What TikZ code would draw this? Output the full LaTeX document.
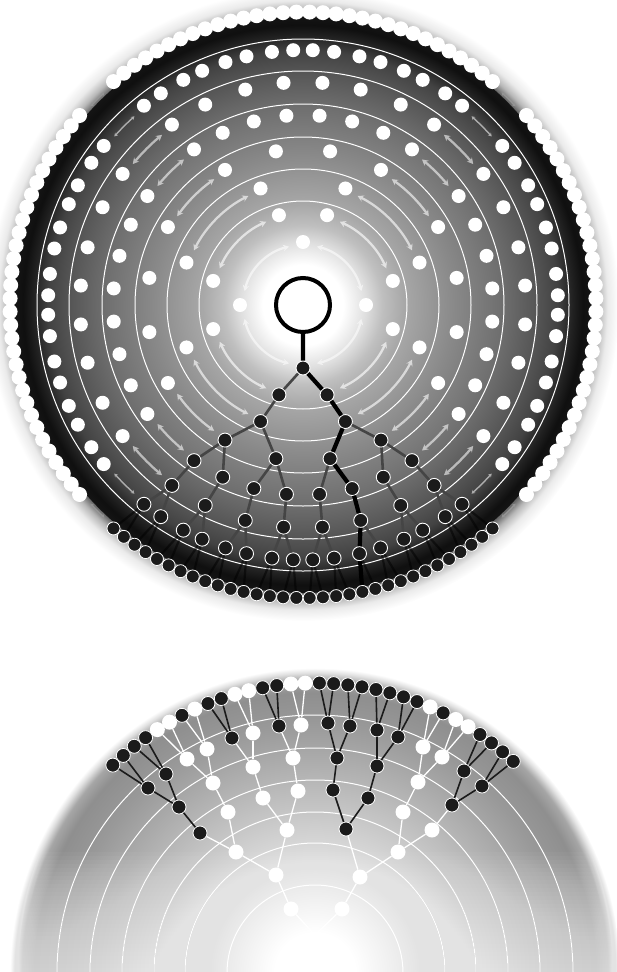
\documentclass[tikz,border=0pt]{standalone}
\usepackage{xcolor}
\definecolor{Coal}{HTML}{1B1B1B}
\definecolor{Smoke}{HTML}{454545}
\usepackage{tikz}
\usetikzlibrary{arrows.meta}
\pgfdeclareradialshading{discshade}{\pgfpoint{0bp}{0bp}}{%
  color(0bp)=(white); color(3.5bp)=(white); color(5.5bp)=(black!13);
  color(6.9bp)=(black!25); color(8.7bp)=(black!34); color(13bp)=(black!46);
  color(17.4bp)=(black!57); color(20.4bp)=(black!67); color(22.1bp)=(black!74);
  color(23.4bp)=(black!87); color(24.3bp)=(black!94); color(25bp)=(black!92);
  color(50bp)=(black!92)}
\pgfdeclareradialshading{haloshade}{\pgfpoint{0bp}{0bp}}{%
  color(0bp)=(black!60); color(22.8bp)=(black!60); color(23.4bp)=(black!28);
  color(24.1bp)=(black!8); color(25bp)=(white); color(50bp)=(white)}
\pgfdeclareradialshading{domeshade}{\pgfpoint{0bp}{0bp}}{%
  color(0bp)=(white); color(3.3bp)=(white); color(8.2bp)=(black!10);
  color(12.3bp)=(black!20); color(16.4bp)=(black!30); color(20.5bp)=(black!40);
  color(23bp)=(black!44); color(24bp)=(black!35); color(24.6bp)=(black!12);
  color(25bp)=(white); color(50bp)=(white)}
\newcommand{\ringlist}{63/{0},93/{-15,15},124/{-20,20},156/{-30,-10,10,30},190/{-35,-25,-15,-5,5,15,25,35},223/{-36,-26,-15,-5,5,15,26,36},255/{-38.6,-33.9,-28,-23.3,-17.7,-12.8,-7,-2.2,2.2,7,12.8,17.7,23.3,28,33.9,38.6}}

\begin{document}
\begin{tikzpicture}[x=1pt,y=-1pt,
  wdot/.style={circle,fill=white,inner sep=0pt,minimum size=14pt},
  tdot/.style={circle,fill=Coal,draw=white,line width=0.9pt,inner sep=0pt,minimum size=14pt},
  rimw/.style={circle,fill=white,inner sep=0pt,minimum size=15pt},
  rimb/.style={circle,fill=Coal,draw=white,line width=0.8pt,inner sep=0pt,minimum size=13pt},
  hub/.style={circle,draw=black,fill=white,line width=4pt,inner sep=0pt,minimum size=54pt},
  bw/.style={circle,fill=white,inner sep=0pt,minimum size=15pt},
  bb/.style={circle,fill=Coal,draw=white,line width=0.8pt,inner sep=0pt,minimum size=14pt},
  branch/.style={draw=Smoke,line width=2.6pt},
  trunk/.style={draw=black,line width=4.2pt},
  trail/.style={draw=black,line width=2.2pt,opacity=.5},
  wline/.style={draw=white,line width=1.3pt},
  bline/.style={draw=Coal,line width=1.6pt},
  ringline/.style={draw=white,line width=1pt},
  flow/.style={{Stealth[length=6pt,width=6.5pt]}-{Stealth[length=6pt,width=6.5pt]},line width=2.3pt},
  flowsmall/.style={{Stealth[length=3.5pt,width=4pt]}-{Stealth[length=3.5pt,width=4pt]},line width=1.4pt}
]
\useasboundingbox (0,0) rectangle (617,972);

\begin{scope}[shift={(303,305)},yscale=-1]
\shade[shading=haloshade] (0,0) circle (316);
\shade[shading=discshade] (0,0) circle (288);
\foreach \r in {104,136,168,201,234,266} \draw[ringline] (0,0) circle (\r);
\foreach \r/\s/\c in {60/0/95,91/15/89,122/20/85,154/30/81,188/35/77,221/36/73}
  \foreach \q in {0,90,180,270}
    \draw[flow,white!\c!black] (\q+\s+802/\r:\r) arc[start angle=\q+\s+802/\r,end angle=\q+90-\s-802/\r,radius=\r];
\foreach \r/\s/\c in {253/38.6/68,291/40.3/58}
  \foreach \q in {0,90,180,270}
    \draw[flowsmall,white!\c!black] (\q+\s+802/\r:\r) arc[start angle=\q+\s+802/\r,end angle=\q+90-\s-802/\r,radius=\r];
\foreach \q in {0,90,180}
  \foreach \r/\l [count=\k] in \ringlist
    \foreach \a [count=\i] in \l
      \node[wdot] (w\q-\k-\i) at (\q+\a:\r) {};
\foreach \r/\l [count=\k] in \ringlist
  \foreach \a [count=\i] in \l
    \node[tdot] (t\k-\i) at (270+\a:\r) {};
\foreach \q in {0,90,180}
  \foreach \i in {1,...,32}
    \node[rimw] (rim\q-\i) at ({\q-40.3+(\i-1)*2.6}:293) {};
\foreach \i in {1,...,32}
  \node[rimb] (rim-\i) at ({229.7+(\i-1)*2.6}:293) {};
\node[hub] (hub) at (0,0) {};
\end{scope}

\foreach \i in {1,2} \draw[branch] (t1-1) -- (t2-\i);
\foreach \i in {1,2} \draw[branch] (t2-\i) -- (t3-\i);
\foreach \i [evaluate=\i as \p using int((\i+1)/2)] in {1,...,4} \draw[branch] (t3-\p) -- (t4-\i);
\foreach \i [evaluate=\i as \p using int((\i+1)/2)] in {1,...,8} \draw[branch] (t4-\p) -- (t5-\i);
\foreach \i in {1,...,8} \draw[branch] (t5-\i) -- (t6-\i);
\foreach \i [evaluate=\i as \p using int((\i+1)/2)] in {1,...,16} \draw[branch] (t6-\p) -- (t7-\i);
\foreach \i [evaluate=\i as \p using int((\i+1)/2)] in {1,...,32} \draw[trail] (t7-\p) -- (rim-\i);
\draw[trunk] (hub) -- (t1-1) -- (t2-2) -- (t3-2) -- (t4-3) -- (t5-6) -- (t6-6) -- (t7-11) -- (rim-21);

\begin{scope}[shift={(315,973)},yscale=-1]
\shade[shading=domeshade] (0,0) circle (305);
\foreach \r in {88,130,161,193,225,258} \draw[ringline] (\r,0) arc[start angle=0,end angle=180,radius=\r];
\end{scope}
\foreach \j in {0,...,29} \fill[white,opacity=.035] (0,852+4*\j) rectangle (617,972);

\coordinate (b0) at (315,935);
\foreach \n/\xy/\s in {b1-1/{291,909}/bw,b1-2/{342,909}/bw,
  b2-1/{276,875}/bw,b2-2/{360,877}/bw,
  b3-1/{236,852}/bw,b3-2/{287,830}/bw,b3-3/{346,829}/bb,b3-4/{398,852}/bw,
  b4-1/{200,833}/bb,b4-2/{228,812}/bw,b4-3/{263,798}/bw,b4-4/{298,791}/bw,b4-5/{333,790}/bb,b4-6/{368,798}/bb,b4-7/{403,812}/bw,b4-8/{432,830}/bw,
  b5-1/{179,807}/bb,b5-2/{213,783}/bw,b5-3/{253,767}/bw,b5-4/{293,758}/bw,b5-5/{337,758}/bb,b5-6/{377,766}/bb,b5-7/{418,782}/bw,b5-8/{452,805}/bb,
  b6-1/{148,788}/bb,b6-2/{166,774}/bb,b6-3/{187,759}/bw,b6-4/{207,749}/bw,b6-5/{232,738}/bb,b6-6/{253,733}/bw,b6-7/{279,726}/bb,b6-8/{301,725}/bw,
  b6-9/{328,723}/bb,b6-10/{350,726}/bb,b6-11/{377,730}/bb,b6-12/{398,737}/bb,b6-13/{423,747}/bw,b6-14/{442,757}/bw,b6-15/{464,771}/bb,b6-16/{482,786}/bb}
  \node[\s] (\n) at (\xy) {};
\begin{scope}[shift={(315,973)},yscale=-1]
\foreach \s [count=\i] in {bb,bb,bb,bb,bw,bw,bb,bw,bb,bb,bw,bw,bb,bb,bw,bw,bb,bb,bb,bb,bb,bb,bb,bb,bw,bb,bw,bw,bb,bb,bb,bb}
  \node[\s] (bo-\i) at ({134.2-(\i-1)*2.817}:290) {};
\end{scope}

\foreach \a/\b/\s in {b0/b1-1/wline,b0/b1-2/wline,b1-1/b2-1/wline,b1-2/b2-2/wline,
  b2-1/b3-1/wline,b2-1/b3-2/wline,b2-2/b3-3/wline,b2-2/b3-4/wline,
  b3-1/b4-1/wline,b3-1/b4-2/wline,b3-2/b4-3/wline,b3-2/b4-4/wline,b3-3/b4-5/bline,b3-3/b4-6/bline,b3-4/b4-7/wline,b3-4/b4-8/wline}
  \draw[\s] (\a) -- (\b);
\foreach \s [count=\i] in {bline,wline,wline,wline,bline,bline,wline,wline}
  \draw[\s] (b4-\i) -- (b5-\i);
\foreach \s [count=\i, evaluate=\i as \m using int(2*\i-1), evaluate=\i as \n using int(2*\i)] in {bline,wline,wline,wline,bline,bline,wline,bline}
  {\draw[\s] (b5-\i) -- (b6-\m); \draw[\s] (b5-\i) -- (b6-\n);}
\foreach \s [count=\i, evaluate=\i as \m using int(2*\i-1), evaluate=\i as \n using int(2*\i)] in {bline,bline,wline,wline,bline,wline,bline,wline,bline,bline,bline,bline,wline,wline,bline,bline}
  {\draw[\s] (b6-\i) -- (bo-\m); \draw[\s] (b6-\i) -- (bo-\n);}
\end{tikzpicture}
\end{document}
